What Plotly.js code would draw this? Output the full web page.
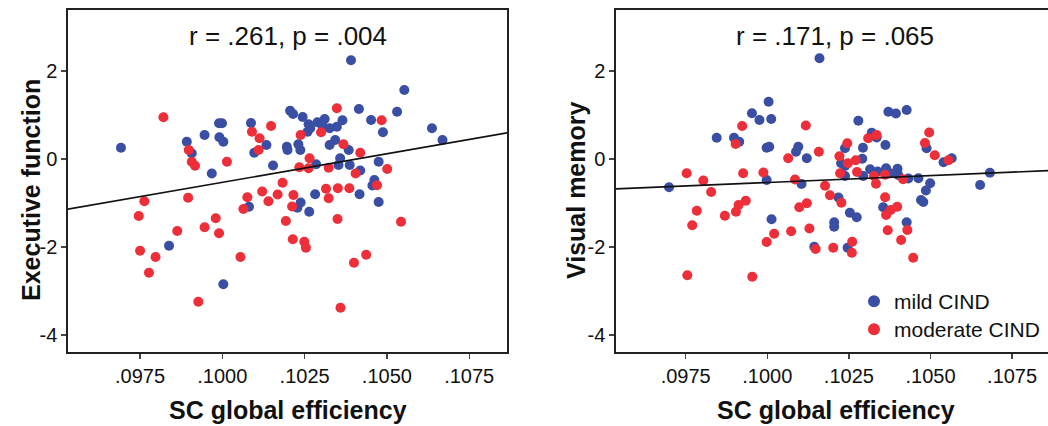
<!DOCTYPE html>
<html>
<head>
<meta charset="utf-8">
<script src="https://cdn.plot.ly/plotly-3.0.1.min.js"></script>
<style>
html,body{margin:0;padding:0;background:#fff;overflow:hidden;}
#chart{width:1048px;height:426px;}
</style>
</head>
<body>
<div id="chart"></div>
<script>
// ---------- data ----------
const groupNames = ["mild CIND", "moderate CIND"];

// Left panel: Executive function
const execMildX = [0.09692,0.09907,0.09892,0.09946,0.09968,0.09990,0.09999,0.09991,0.10003,0.10087,
  0.10134,0.10097,0.10154,0.10206,0.10215,0.10244,0.10196,0.10198,0.10231,0.10237,
  0.10262,0.10267,0.10259,0.10289,0.10311,0.10303,0.10326,0.10348,0.10365,0.10415,
  0.10452,0.10488,0.10531,0.10326,0.10343,0.10384,0.10285,0.10358,0.10353,0.10387,
  0.10475,0.10419,0.10282,0.10417,0.10462,0.10456,0.10238,0.10228,0.10264,0.10475,
  0.10391,0.10553,0.10637,0.10669,0.10081,0.09838,0.10003];
const execMildY = [0.257,0.130,0.393,0.545,-0.330,0.811,0.811,0.493,0.393,0.818,
  0.318,0.143,-0.148,1.098,1.023,0.955,0.280,0.205,0.334,0.205,
  0.789,0.698,0.620,0.834,0.909,0.773,0.698,0.734,0.880,1.136,
  0.886,0.607,1.075,0.318,0.432,0.205,-0.120,0.016,-0.136,-0.136,
  -0.061,-0.261,-0.802,-0.802,-0.477,-0.602,-0.989,-1.107,-1.198,-0.977,
  2.243,1.568,0.698,0.432,-1.084,-1.970,-2.848];
const execModX = [0.09821,0.09898,0.09907,0.09917,0.10014,0.10090,0.10113,0.10110,0.10148,0.10238,
  0.10234,0.10300,0.10348,0.10484,0.10368,0.10419,0.10265,0.10262,0.10323,0.10501,
  0.10405,0.10183,0.10121,0.10076,0.10168,0.10216,0.10315,0.10351,0.10386,0.10323,
  0.10470,0.10140,0.10212,0.09763,0.09746,0.09750,0.09797,0.09777,0.09863,0.09896,
  0.09927,0.09946,0.09980,0.09990,0.10055,0.10064,0.10193,0.10214,0.10249,0.10254,
  0.10350,0.10543,0.10437,0.10400,0.10359];
const execModY = [0.948,0.205,-0.061,-0.152,-0.061,0.620,0.470,0.205,0.750,0.545,
  -0.186,0.607,1.152,0.880,0.334,0.143,0.016,-0.211,-0.198,-0.227,
  -0.330,-0.539,-0.739,-0.870,-0.807,-0.818,-0.677,-0.666,-0.666,-0.893,
  -0.598,-0.959,-1.080,-0.961,-1.295,-2.084,-2.227,-2.584,-1.636,-0.880,
  -3.243,-1.552,-1.348,-1.689,-2.227,-1.136,-1.409,-1.825,-1.880,-2.016,
  -1.364,-1.425,-2.175,-2.357,-3.380];
const execFitX = [0.0950, 0.1090];
const execFitY = [-1.18, 0.64];
const execStat = "r = .261, p = .004";

// Right panel: Visual memory
const visMildX = [0.10160,0.09845,0.09898,0.09914,0.09953,0.09976,0.10004,0.10012,0.09998,0.10006,
  0.10095,0.10088,0.10121,0.09998,0.10105,0.09699,0.10013,0.10144,0.10279,0.10371,
  0.10394,0.10427,0.10320,0.10335,0.10362,0.10238,0.10293,0.10226,0.10291,0.10315,
  0.10338,0.10364,0.10399,0.10401,0.10432,0.10463,0.10238,0.10294,0.10376,0.10499,
  0.10486,0.10471,0.10478,0.10488,0.10540,0.10565,0.10682,0.10652,0.10218,0.10205,
  0.10205,0.10253,0.10274,0.10246,0.10355,0.10427,0.10238];
const visMildY = [2.289,0.484,0.484,0.393,1.039,0.886,1.302,0.909,0.257,0.280,
  0.280,0.166,0.016,-0.477,-0.568,-0.643,-1.370,-1.993,0.868,1.075,
  1.034,1.114,0.598,0.489,0.318,0.243,0.257,-0.098,0.005,-0.232,
  -0.284,-0.211,-0.220,-0.364,-0.443,-0.439,-0.386,-0.386,-0.325,-0.552,
  -0.716,-0.932,-0.977,0.243,-0.075,0.016,-0.314,-0.591,-0.875,-1.439,
  -1.539,-1.220,-1.325,-2.016,-1.098,-1.439,-0.159];
const visModX = [0.09753,0.09804,0.09828,0.09784,0.09770,0.09755,0.09870,0.09904,0.09912,0.09934,
  0.09926,0.09988,0.10085,0.10121,0.10098,0.10021,0.09998,0.10073,0.10129,0.10148,
  0.09954,0.09903,0.09923,0.10118,0.10064,0.10158,0.10245,0.10221,0.10247,0.10271,
  0.10223,0.10275,0.10309,0.10335,0.10327,0.10361,0.10333,0.10416,0.10483,0.10496,
  0.10513,0.10555,0.10177,0.10192,0.10227,0.10361,0.10364,0.10378,0.10398,0.10369,
  0.10429,0.10410,0.10447,0.10202,0.10260,0.10259];
const visModY = [-0.325,-0.489,-0.750,-1.175,-1.507,-2.643,-1.289,-1.198,-1.045,-0.948,
  -0.325,-0.307,-0.466,-1.007,-1.098,-1.698,-1.886,-1.643,-1.580,-2.045,
  -2.675,0.341,0.750,0.761,0.016,0.166,0.357,0.061,-0.098,-0.030,
  -0.325,-0.295,0.470,0.545,-0.386,-0.357,-0.561,-0.461,0.364,0.602,
  0.084,-0.030,-0.609,-0.823,-0.995,-0.870,-1.273,-1.159,-1.084,-1.620,
  -1.614,-1.841,-2.243,-2.016,-1.880,-2.130];
const visFitX = [0.0950, 0.1100];
const visFitY = [-0.69, -0.22];
const visStat = "r = .171, p = .065";

// Axis ticks and titles
const xTickVals = [0.0975, 0.1000, 0.1025, 0.1050, 0.1075];
const xTickText = [".0975", ".1000", ".1025", ".1050", ".1075"];
const yTickVals = [2, 0, -2, -4];
const yTickText = ["2", "0", "-2", "-4"];
const xTitle = "SC global efficiency";
const yTitleLeft = "Executive function";
const yTitleRight = "Visual memory";

// ---------- styling ----------
const W = 1048, H = 426;
const BLUE = "#3a4fa3";
const RED = "#ee2e38";
const FONT = "Liberation Sans, Arial, sans-serif";
const px = v => v / W;
const py = v => 1 - v / H;

const mk = (color) => ({color: color, size: 10, line: {width: 0}});

const traces = [
  {x: execMildX, y: execMildY, xaxis: "x", yaxis: "y", mode: "markers", type: "scatter",
   name: groupNames[0], showlegend: false, marker: mk(BLUE)},
  {x: execModX, y: execModY, xaxis: "x", yaxis: "y", mode: "markers", type: "scatter",
   name: groupNames[1], showlegend: false, marker: mk(RED)},
  {x: execFitX, y: execFitY, xaxis: "x", yaxis: "y", mode: "lines", type: "scatter",
   showlegend: false, line: {color: "#111", width: 1.6}, hoverinfo: "skip"},
  {x: visMildX, y: visMildY, xaxis: "x2", yaxis: "y2", mode: "markers", type: "scatter",
   name: groupNames[0], showlegend: true, legend: "legend", marker: mk(BLUE)},
  {x: visModX, y: visModY, xaxis: "x2", yaxis: "y2", mode: "markers", type: "scatter",
   name: groupNames[1], showlegend: true, legend: "legend2", marker: mk(RED)},
  {x: visFitX, y: visFitY, xaxis: "x2", yaxis: "y2", mode: "lines", type: "scatter",
   showlegend: false, line: {color: "#111", width: 1.6}, hoverinfo: "skip"}
];

const xAxisBase = {
  tickvals: xTickVals, ticktext: xTickText,
  ticks: "outside", ticklen: 5, tickwidth: 1.3, tickcolor: "#444",
  showline: true, linecolor: "#222", linewidth: 1.6,
  showgrid: false, zeroline: false,
  tickfont: {family: FONT, size: 20, color: "#111"}
};
const yAxisBase = {
  range: [-4.386, 3.386],
  tickvals: yTickVals, ticktext: yTickText,
  ticks: "outside", ticklen: 5, tickwidth: 1.3, tickcolor: "#444",
  showline: true, linecolor: "#222", linewidth: 1.6,
  showgrid: false, zeroline: false,
  tickfont: {family: FONT, size: 20, color: "#111"},
  domain: [py(352), py(10)]
};

const legendBase = {
  xanchor: "left", yanchor: "top",
  bgcolor: "rgba(0,0,0,0)", borderwidth: 0,
  font: {family: FONT, size: 21, color: "#111"},
  itemsizing: "constant"
};

const layout = {
  width: W, height: H,
  margin: {l: 0, r: 0, t: 0, b: 0},
  paper_bgcolor: "#fff", plot_bgcolor: "#fff",
  font: {family: FONT, color: "#111"},
  showlegend: true,
  legend: Object.assign({}, legendBase, {x: px(854), y: py(281)}),
  legend2: Object.assign({}, legendBase, {x: px(854), y: py(309)}),
  xaxis: Object.assign({}, xAxisBase, {
    domain: [px(68), px(507)], range: [0.09531, 0.10865], mirror: true, anchor: "y"
  }),
  yaxis: Object.assign({}, yAxisBase, {anchor: "x", mirror: true}),
  xaxis2: Object.assign({}, xAxisBase, {
    domain: [px(616), 1], range: [0.095365, 0.10860], mirror: true, anchor: "y2"
  }),
  yaxis2: Object.assign({}, yAxisBase, {anchor: "x2", mirror: false}),
  annotations: [
    {text: execStat, xref: "paper", yref: "paper", x: px(287.5), y: py(36),
     xanchor: "center", yanchor: "middle", showarrow: false,
     font: {family: FONT, size: 26, color: "#111"}},
    {text: visStat, xref: "paper", yref: "paper", x: px(835), y: py(36),
     xanchor: "center", yanchor: "middle", showarrow: false,
     font: {family: FONT, size: 26, color: "#111"}},
    {text: "<b>" + xTitle + "</b>", xref: "paper", yref: "paper", x: px(287.5), y: py(410),
     xanchor: "center", yanchor: "middle", showarrow: false,
     font: {family: FONT, size: 25, color: "#111"}},
    {text: "<b>" + xTitle + "</b>", xref: "paper", yref: "paper", x: px(836), y: py(410),
     xanchor: "center", yanchor: "middle", showarrow: false,
     font: {family: FONT, size: 25, color: "#111"}},
    {text: "<b>" + yTitleLeft + "</b>", xref: "paper", yref: "paper", x: px(31), y: py(190),
     xanchor: "center", yanchor: "middle", showarrow: false, textangle: -90,
     font: {family: FONT, size: 25, color: "#111"}},
    {text: "<b>" + yTitleRight + "</b>", xref: "paper", yref: "paper", x: px(576), y: py(190),
     xanchor: "center", yanchor: "middle", showarrow: false, textangle: -90,
     font: {family: FONT, size: 25, color: "#111"}}
  ]
};

Plotly.newPlot("chart", traces, layout, {staticPlot: true, displayModeBar: false});
</script>
</body>
</html>
